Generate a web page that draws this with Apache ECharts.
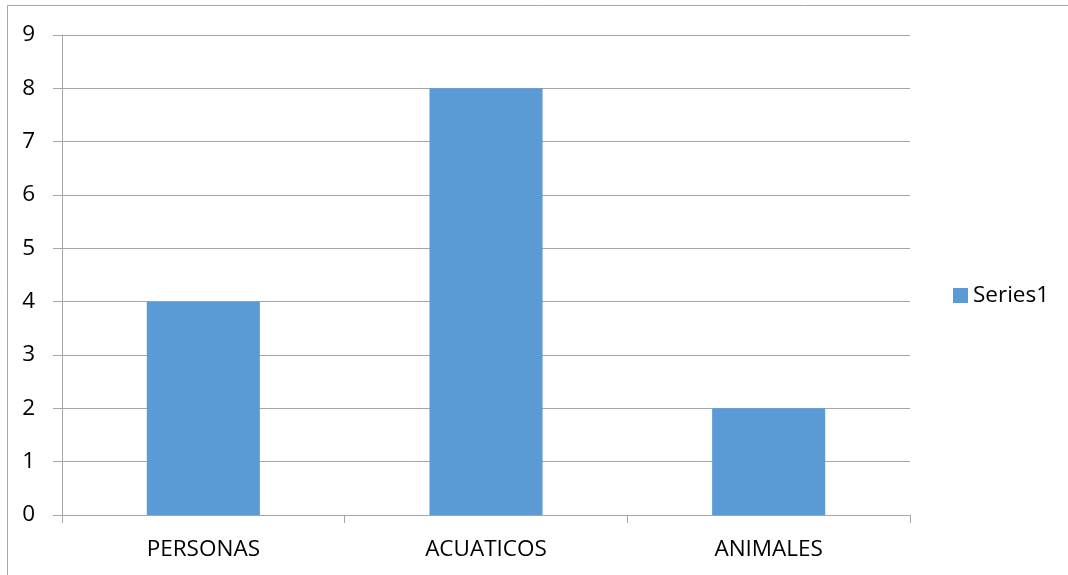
<!DOCTYPE html>
<html>
<head>
<meta charset="utf-8">
<script src="https://cdn.jsdelivr.net/npm/echarts@6/dist/echarts.min.js"></script>
<style>
html,body{margin:0;padding:0;background:#fff;}
#c{width:1068px;height:575px;}
</style>
</head>
<body>
<div id="c"></div>
<script>
const categories = ['PERSONAS', 'ACUATICOS', 'ANIMALES'];
const seriesName = 'Series1';
const values = [4, 8, 2];
const yTicks = { min: 0, max: 9, interval: 1 };

const FONT = '"Open Sans", "Noto Sans", sans-serif';
const chart = echarts.init(document.getElementById('c'), null, { renderer: 'canvas' });
chart.setOption({
  animation: false,
  backgroundColor: '#ffffff',
  graphic: [{
    type: 'rect',
    shape: { x: 7.5, y: 5.5, width: 1200, height: 700 },
    style: { fill: 'none', stroke: '#a6a6a6', lineWidth: 1 },
    silent: true
  }],
  grid: { left: 62, right: 158, top: 35, bottom: 60, containLabel: false },
  legend: {
    orient: 'vertical',
    left: 948,
    top: 279,
    icon: 'rect',
    itemWidth: 15,
    itemHeight: 15,
    itemGap: 8,
    textStyle: { fontFamily: FONT, fontSize: 22.5, color: '#000' },
    data: [seriesName]
  },
  xAxis: {
    type: 'category',
    data: categories,
    axisLine: { show: true, lineStyle: { color: '#a6a6a6', width: 1 } },
    axisTick: { show: true, alignWithLabel: false, length: 8, lineStyle: { color: '#a6a6a6' } },
    axisLabel: { margin: 23, fontFamily: FONT, fontSize: 22.5, color: '#000' },
    splitLine: { show: false }
  },
  yAxis: {
    type: 'value',
    min: yTicks.min,
    max: yTicks.max,
    interval: yTicks.interval,
    axisLine: { show: true, lineStyle: { color: '#a6a6a6', width: 1 } },
    axisTick: { show: true, length: 9, lineStyle: { color: '#a6a6a6' } },
    axisLabel: { margin: 27, fontFamily: FONT, fontSize: 22.5, color: '#000' },
    splitLine: { show: true, lineStyle: { color: '#a6a6a6', width: 1 } }
  },
  series: [{
    name: seriesName,
    type: 'bar',
    data: values,
    barWidth: '40%',
    itemStyle: { color: '#5b9bd5' }
  }]
});
</script>
</body>
</html>
